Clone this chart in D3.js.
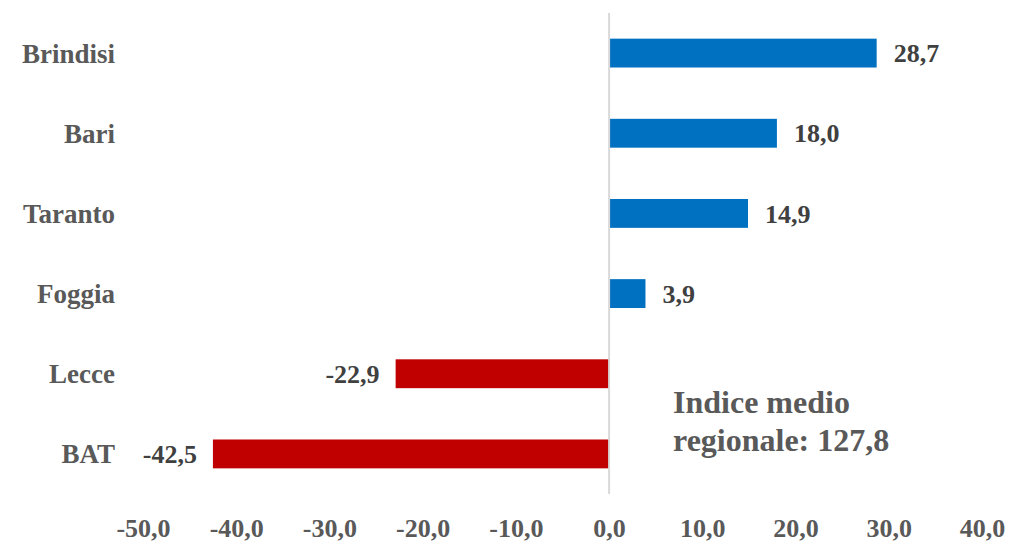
<!DOCTYPE html>
<html>
<head>
<meta charset="utf-8">
<script src="https://cdn.jsdelivr.net/npm/d3@7"></script>
<style>
  body { margin: 0; background: #fff; }
  svg { display: block; font-family: "Liberation Serif", "DejaVu Serif", serif; font-weight: bold; }
</style>
</head>
<body>
<svg id="chart" width="1012" height="542"></svg>
<script>
// province deltas vs regional average index
const provinces = ["Brindisi", "Bari", "Taranto", "Foggia", "Lecce", "BAT"];
const deltas = [28.7, 18.0, 14.9, 3.9, -22.9, -42.5];
const xTicks = [-50, -40, -30, -20, -10, 0, 10, 20, 30, 40];
const noteLines = ["Indice medio", "regionale: 127,8"];

const svg = d3.select("#chart");
const fmt = v => d3.format(".1f")(v).replace(".", ",").replace("\u2212", "-");

const x = d3.scaleLinear().domain([-50, 40]).range([143, 982]);
const y = d3.scaleBand().domain(provinces).range([13, 494]).paddingInner(0.64).paddingOuter(0.32);

const data = provinces.map((p, i) => ({name: p, value: deltas[i]}));

// bars
svg.append("g").selectAll("rect")
    .data(data)
    .join("rect")
    .attr("x", d => Math.min(x(0), x(d.value)))
    .attr("y", d => y(d.name))
    .attr("width", d => Math.abs(x(d.value) - x(0)))
    .attr("height", y.bandwidth())
    .attr("fill", d => d.value >= 0 ? "#0070c0" : "#c00000");

// zero line
svg.append("line")
    .attr("x1", x(0)).attr("x2", x(0))
    .attr("y1", 13).attr("y2", 494)
    .attr("stroke", "#d9d9d9").attr("stroke-width", 2);

// category labels
svg.append("g").selectAll("text")
    .data(provinces)
    .join("text")
    .attr("x", 115)
    .attr("y", d => y(d) + y.bandwidth() / 2)
    .attr("dy", "0.35em")
    .attr("text-anchor", "end")
    .attr("fill", "#595959")
    .attr("font-size", 27)
    .text(d => d);

// value labels
svg.append("g").selectAll("text")
    .data(data)
    .join("text")
    .attr("x", d => d.value >= 0 ? x(d.value) + 17 : x(d.value) - 16)
    .attr("y", d => y(d.name) + y.bandwidth() / 2)
    .attr("dy", "0.35em")
    .attr("text-anchor", d => d.value >= 0 ? "start" : "end")
    .attr("fill", "#404040")
    .attr("font-size", 26)
    .text(d => fmt(d.value));

// x axis labels
const xAxis = d3.axisBottom(x).tickValues(xTicks).tickFormat(fmt).tickSize(0).tickPadding(0);
const ax = svg.append("g").attr("transform", "translate(0,537)").call(xAxis);
ax.select(".domain").remove();
ax.selectAll("text")
    .attr("dy", 0)
    .attr("fill", "#595959")
    .attr("font-size", 26)
    .attr("font-family", "Liberation Serif, serif")
    .attr("font-weight", "bold");

// note
svg.append("g").selectAll("text")
    .data(noteLines)
    .join("text")
    .attr("x", 673)
    .attr("y", (d, i) => 413 + i * 38)
    .attr("fill", "#595959")
    .attr("font-size", 32)
    .text(d => d);
</script>
</body>
</html>
